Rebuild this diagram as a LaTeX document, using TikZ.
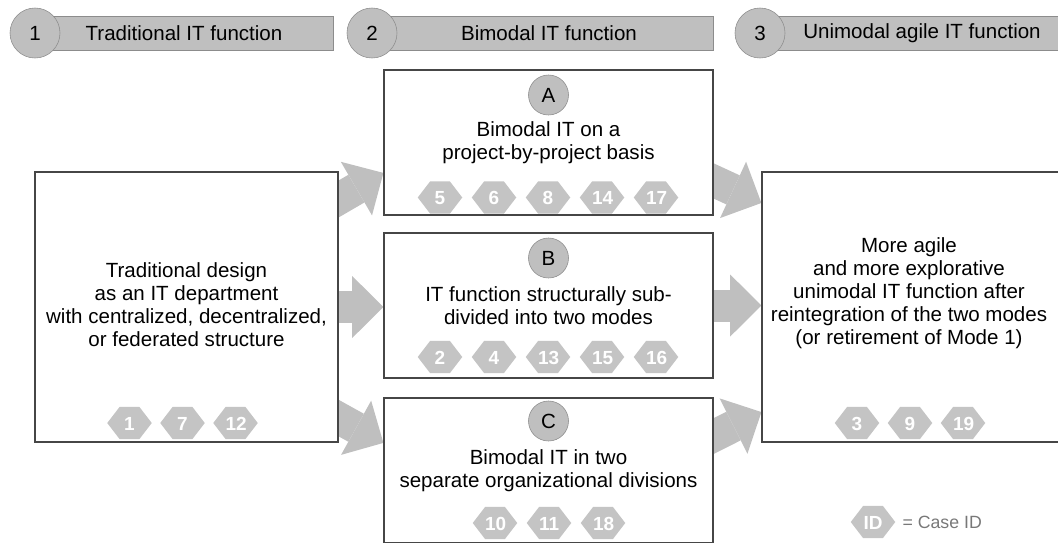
\documentclass[tikz,border=0pt]{standalone}
\usepackage{fontspec}
\setmainfont{Liberation Sans}
\usetikzlibrary{arrows.meta,shapes.symbols,backgrounds,positioning}
\definecolor{boxgray}{RGB}{191,191,191}
\definecolor{rimgray}{RGB}{140,140,140}
\definecolor{framegray}{RGB}{70,70,70}
\definecolor{hexgray}{RGB}{196,196,196}
\definecolor{legendgray}{RGB}{120,120,120}
\begin{document}
\begin{tikzpicture}[x=0.025cm,y=-0.025cm,
  every node/.style={font=\fontsize{14.6}{16.4}\selectfont},
  phasebar/.style={draw=rimgray,fill=boxgray,minimum height=0.85cm,inner sep=0},
  phasedot/.style={circle,draw=rimgray,fill=boxgray,minimum size=1.25cm,inner sep=0},
  variantdot/.style={circle,draw=rimgray,fill=boxgray,minimum size=1cm,inner sep=0},
  designbox/.style={draw=framegray,fill=white,line width=0.8pt,align=center,inner sep=0},
  caseid/.style={signal,signal to=west and east,signal pointer angle=105,fill=hexgray,text=white,
    font=\fontsize{13.5}{14}\selectfont\bfseries,text width=14pt,align=center,
    text height=10pt,text depth=0pt,inner xsep=0,inner ysep=6.5pt},
  blockarrow/.style={draw=boxgray,line width=0.8cm,
    -{Triangle[length=0.78cm,width=1.55cm,line width=0pt]},shorten <=-0.4cm}]
  \useasboundingbox (0,0) rectangle (1058,542);
  \clip (0,0) rectangle (1058,542);
  \node[phasebar,minimum width=7.45cm] (bar1) at (184,33) {Traditional IT function};
  \node[phasebar,minimum width=8.2cm] (bar2) at (549,33) {Bimodal IT function};
  \node[phasebar,minimum width=7.6cm] (bar3) at (922,33) {Unimodal agile IT function};
  \node[phasedot] (p1) at (35,33) {1};
  \node[phasedot] (p2) at (372,33) {2};
  \node[phasedot] (p3) at (760,33) {3};
  \node[designbox,minimum width=7.575cm,minimum height=6.75cm] (trad) at (186.5,307) {};
  \node[align=center] (tradtext) at (186.5,304.5) {Traditional design\\as an IT department\\with centralized, decentralized,\\or federated structure};
  \node[designbox,minimum width=8.225cm,minimum height=3.625cm] (bimA) at (548.5,142.5) {Bimodal IT on a\\project-by-project basis};
  \node[designbox,minimum width=8.225cm,minimum height=3.625cm] (bimB) at (548.5,305.5) {IT function structurally sub-\\divided into two modes};
  \node[designbox,minimum width=8.225cm,minimum height=3.625cm] (bimC) at (548.5,470.5) {Bimodal IT in two\\separate organizational divisions};
  \node[designbox,minimum width=7.55cm,minimum height=6.75cm] (uni) at (913,307) {};
  \node[align=center] (unitext) at (909,293) {More agile\\and more explorative\\unimodal IT function after\\reintegration of the two modes\\(or retirement of Mode 1)};
  \node[variantdot] (vA) at (548.5,95) {A};
  \node[variantdot] (vB) at (548.5,258) {B};
  \node[variantdot] (vC) at (548.5,421) {C};
  \foreach \n [count=\i] in {1,7,12} \node[caseid] (t\i) at (76.5+53*\i,423) {\n};
  \foreach \n [count=\i] in {5,6,8,14,17} \node[caseid] (a\i) at (386+54*\i,197.5) {\n};
  \foreach \n [count=\i] in {2,4,13,15,16} \node[caseid] (b\i) at (386+54*\i,357) {\n};
  \foreach \n [count=\i] in {10,11,18} \node[caseid] (c\i) at (441+54*\i,523) {\n};
  \foreach \n [count=\i] in {3,9,19} \node[caseid] (u\i) at (804+53*\i,423) {\n};
  \node[caseid] (legendid) at (873,522) {ID};
  \node[right=0.05cm of legendid,text=legendgray,font=\fontsize{12.6}{14}\selectfont] (legendtext) {= Case ID};
  \begin{scope}[on background layer]
    \draw[blockarrow] ([yshift=2.7cm]trad.east) -- ([yshift=-0.76cm]bimA.west);
    \draw[blockarrow] (trad.east) -- (trad.east -| bimB.west);
    \draw[blockarrow] ([yshift=-2.775cm]trad.east) -- ([yshift=0.69cm]bimC.west);
    \draw[blockarrow] ([yshift=-0.96cm]bimA.east) -- ([yshift=2.6cm]uni.west);
    \draw[blockarrow] (bimB.east) -- (bimB.east -| uni.west);
    \draw[blockarrow] ([yshift=0.86cm]bimC.east) -- ([yshift=-2.625cm]uni.west);
  \end{scope}
\end{tikzpicture}
\end{document}
